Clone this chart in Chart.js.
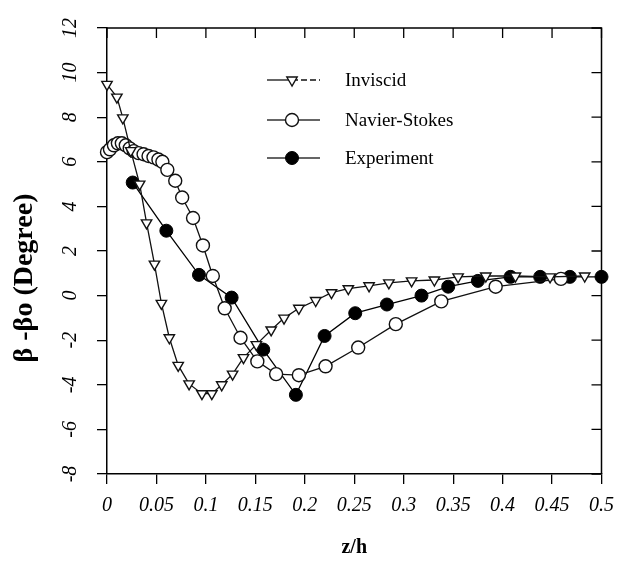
<!DOCTYPE html>
<html>
<head>
<meta charset="utf-8">
<script src="https://cdn.jsdelivr.net/npm/chart.js@4.4.1/dist/chart.umd.min.js"></script>
<style>
  html, body { margin: 0; padding: 0; background: #fff; }
  #chart { display: block; }
</style>
</head>
<body>
<canvas id="chart" width="624" height="568"></canvas>
<script>
// values: z/h and beta - beta0 (deg)
const inviscidZ = [0, 0.010, 0.016, 0.024, 0.033, 0.040, 0.048, 0.055, 0.063, 0.072, 0.083, 0.096, 0.106,
  0.116, 0.127, 0.138, 0.151, 0.166, 0.179, 0.194, 0.211, 0.227, 0.244, 0.265, 0.285, 0.308, 0.331,
  0.355, 0.383, 0.413, 0.448, 0.483];
const inviscidBeta = [9.47, 8.9, 7.97, 6.5, 5.0, 3.26, 1.41, -0.35, -1.89, -3.13, -3.96, -4.4, -4.4,
  -4.0, -3.52, -2.78, -2.2, -1.54, -1.01, -0.57, -0.22, 0.13, 0.31, 0.44, 0.57, 0.66, 0.7,
  0.84, 0.88, 0.88, 0.84, 0.88];

const nsZ = [0, 0.003, 0.007, 0.011, 0.015, 0.019, 0.023, 0.027, 0.032, 0.037, 0.042, 0.047, 0.052,
  0.056, 0.061, 0.069, 0.076, 0.087, 0.097, 0.107, 0.119, 0.135, 0.152, 0.171, 0.194, 0.221, 0.254,
  0.292, 0.338, 0.393, 0.459];
const nsBeta = [6.43, 6.56, 6.74, 6.83, 6.83, 6.74, 6.6, 6.48, 6.39, 6.34, 6.26, 6.2, 6.1,
  6.0, 5.64, 5.15, 4.4, 3.48, 2.25, 0.88, -0.57, -1.89, -2.95, -3.52, -3.57, -3.17, -2.33,
  -1.28, -0.26, 0.4, 0.75];

const expZ = [0.026, 0.060, 0.093, 0.126, 0.158, 0.191, 0.220, 0.251, 0.283, 0.318, 0.345, 0.375,
  0.408, 0.438, 0.468, 0.5];
const expBeta = [5.07, 2.91, 0.93, -0.09, -2.42, -4.45, -1.81, -0.79, -0.4, 0.0, 0.4, 0.66,
  0.84, 0.84, 0.84, 0.84];

const seriesNames = ["Inviscid", "Navier-Stokes", "Experiment"];
const xTickLabels = ["0", "0.05", "0.1", "0.15", "0.2", "0.25", "0.3", "0.35", "0.4", "0.45", "0.5"];
const yTickLabels = ["-8", "-6", "-4", "-2", "0", "2", "4", "6", "8", "10", "12"];

const SERIF = '"Liberation Serif", "Times New Roman", serif';

function toPoints(xs, ys) {
  return xs.map((x, i) => ({ x, y: ys[i] }));
}

const datasets = [
  {
    label: seriesNames[0],
    data: toPoints(inviscidZ, inviscidBeta),
    pointStyle: "triangle",
    rotation: 180,
    pointRadius: 6,
    backgroundColor: "#fff",
    borderColor: "#111",
    borderWidth: 1.3,
    pointBorderWidth: 1.4
  },
  {
    label: seriesNames[1],
    data: toPoints(nsZ, nsBeta),
    pointStyle: "circle",
    pointRadius: 6.5,
    backgroundColor: "#fff",
    borderColor: "#111",
    borderWidth: 1.3,
    pointBorderWidth: 1.4
  },
  {
    label: seriesNames[2],
    data: toPoints(expZ, expBeta),
    pointStyle: "circle",
    pointRadius: 6.5,
    backgroundColor: "#000",
    borderColor: "#000",
    borderWidth: 1.3,
    pointBorderWidth: 1
  }
].map((d) => ({ ...d, showLine: true, tension: 0, clip: false, fill: false }));

// top / right border with inward ticks, legend and rotated y title
const decorPlugin = {
  id: "decor",
  afterDraw(chart) {
    const { ctx, chartArea: a, scales } = chart;
    ctx.save();
    ctx.strokeStyle = "#000";
    ctx.lineWidth = 1.5;
    ctx.beginPath();
    ctx.moveTo(a.left, a.top);
    ctx.lineTo(a.right, a.top);
    ctx.lineTo(a.right, a.bottom);
    ctx.stroke();

    ctx.lineWidth = 1.3;
    ctx.beginPath();
    scales.x.ticks.forEach((t) => {
      const px = scales.x.getPixelForValue(t.value);
      ctx.moveTo(px, a.top);
      ctx.lineTo(px, a.top + 10);
    });
    scales.y.ticks.forEach((t) => {
      const py = scales.y.getPixelForValue(t.value);
      ctx.moveTo(a.right, py);
      ctx.lineTo(a.right - 10, py);
    });
    ctx.stroke();

    // legend
    const rows = [80, 120, 158];
    chart.data.datasets.forEach((ds, i) => {
      const y = rows[i];
      ctx.strokeStyle = "#111";
      ctx.lineWidth = 1.3;
      ctx.setLineDash([]);
      ctx.beginPath();
      ctx.moveTo(267, y);
      ctx.lineTo(292, y);
      ctx.stroke();
      if (i === 0) ctx.setLineDash([6, 3]);
      ctx.beginPath();
      ctx.moveTo(292, y);
      ctx.lineTo(320, y);
      ctx.stroke();
      ctx.setLineDash([]);
      ctx.fillStyle = ds.backgroundColor;
      ctx.strokeStyle = ds.borderColor;
      ctx.lineWidth = ds.pointBorderWidth;
      Chart.helpers.drawPoint(ctx, {
        pointStyle: ds.pointStyle,
        rotation: ds.rotation || 0,
        radius: ds.pointRadius,
        borderWidth: ds.pointBorderWidth
      }, 292, y);
      ctx.fillStyle = "#000";
      ctx.font = `19px ${SERIF}`;
      ctx.textAlign = "left";
      ctx.textBaseline = "middle";
      ctx.fillText(ds.label, 345, y + 1);
    });

    // y axis title
    ctx.translate(25, 278);
    ctx.rotate(-Math.PI / 2);
    ctx.fillStyle = "#000";
    ctx.font = `bold 28px ${SERIF}`;
    ctx.textAlign = "center";
    ctx.textBaseline = "middle";
    ctx.fillText("\u03B2 -\u03B2o (Degree)", 0, 0);
    ctx.restore();
  }
};

new Chart(document.getElementById("chart"), {
  type: "scatter",
  data: { datasets },
  plugins: [decorPlugin],
  options: {
    responsive: false,
    animation: false,
    layout: { padding: { top: 20, right: 20, left: 0, bottom: 0 } },
    plugins: {
      legend: { display: false },
      tooltip: { enabled: false }
    },
    scales: {
      x: {
        type: "linear",
        min: 0,
        max: 0.5,
        afterFit: (scale) => { scale.height = 94; },
        ticks: {
          stepSize: 0.05,
          autoSkip: false,
          maxRotation: 0,
          padding: 10,
          color: "#000",
          font: { family: SERIF, size: 20, style: "italic" },
          callback: (v, i) => xTickLabels[i]
        },
        grid: { drawOnChartArea: false, drawTicks: true, tickLength: 10, color: "#000", lineWidth: 1.3 },
        border: { display: true, color: "#000", width: 1.5 },
        title: {
          display: true,
          text: "z/h",
          color: "#000",
          font: { family: SERIF, size: 20, weight: "bold" },
          padding: { top: 0, bottom: 8 }
        }
      },
      y: {
        type: "linear",
        min: -8,
        max: 12,
        afterFit: (scale) => { scale.width = 107; },
        ticks: {
          stepSize: 2,
          autoSkip: false,
          minRotation: 90,
          maxRotation: 90,
          crossAlign: "center",
          padding: 16,
          color: "#000",
          font: { family: SERIF, size: 20, style: "italic" },
          callback: (v, i) => yTickLabels[i]
        },
        grid: { drawOnChartArea: false, drawTicks: true, tickLength: 10, color: "#000", lineWidth: 1.3 },
        border: { display: true, color: "#000", width: 1.5 }
      }
    }
  }
});
</script>
</body>
</html>
